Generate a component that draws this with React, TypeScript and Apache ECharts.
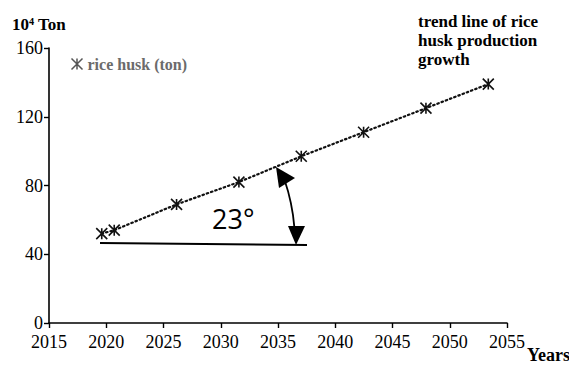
import React, { useEffect, useRef } from "react";
import * as echarts from "echarts";

// ---- data ----
const years = [2019, 2020, 2025, 2030, 2035, 2040, 2045, 2050];
const riceHusk = [52, 54, 69, 82, 97, 111, 125, 139];
const seriesName = "rice husk (ton)";
const xAxisRange = { min: 2015, max: 2055, interval: 5 };
const yAxisRange = { min: 0, max: 160, interval: 40 };
// the plotted points sit on their own (hidden) year scale in the reference
const pointYearScale = { min: 2014.77, max: 2051.5 };
const angleLabel = "23°";
const unitLabel = "10⁴ Ton";
const xName = "Years";
const trendNote = "trend line of rice\nhusk production\ngrowth";

const SERIF = "Liberation Serif";
const ASTERISK = "path://M0,0L10,10M10,0L0,10M5,0L5,10";

export default function App() {
  const ref = useRef<HTMLDivElement>(null);
  useEffect(() => {
    if (!ref.current) return;
    const chart = echarts.init(ref.current, null, { renderer: "svg" });
    chart.setOption({
      animation: false,
      backgroundColor: "#ffffff",
      textStyle: { fontFamily: SERIF },
      grid: { left: 49, right: 62, top: 48, bottom: 51 },
      legend: {
        left: 64,
        top: 51,
        itemWidth: 11,
        itemHeight: 11,
        data: [{ name: seriesName, icon: ASTERISK }],
        itemStyle: { color: "none", borderColor: "#555", borderWidth: 1.5 },
        textStyle: { fontFamily: SERIF, fontWeight: "bold", fontSize: 16, color: "#6b6b6b" },
      },
      xAxis: [
        {
          type: "value",
          min: xAxisRange.min,
          max: xAxisRange.max,
          interval: xAxisRange.interval,
          splitLine: { show: false },
          axisLine: { show: true, onZero: false, lineStyle: { color: "#000", width: 1.6 } },
          axisTick: { show: true, length: 5, lineStyle: { color: "#000", width: 1.4 } },
          axisLabel: {
            color: "#000",
            fontFamily: SERIF,
            fontSize: 18,
            margin: 10,
            formatter: (v: number) => String(v),
          },
        },
        {
          type: "value",
          show: false,
          min: pointYearScale.min,
          max: pointYearScale.max,
        },
      ],
      yAxis: {
        type: "value",
        min: yAxisRange.min,
        max: yAxisRange.max,
        interval: yAxisRange.interval,
        splitLine: { show: false },
        axisLine: { show: true, lineStyle: { color: "#000", width: 1.6 } },
        axisTick: { show: true, length: 5, lineStyle: { color: "#000", width: 1.4 } },
        axisLabel: { color: "#000", fontFamily: SERIF, fontSize: 18, margin: 6 },
      },
      series: [
        {
          name: seriesName,
          type: "line",
          xAxisIndex: 1,
          data: years.map((y, i) => [y, riceHusk[i]]),
          symbol: ASTERISK,
          symbolSize: 11,
          itemStyle: { color: "none", borderColor: "#111", borderWidth: 1.6 },
          lineStyle: { color: "#111", width: 2.2, type: [1.5, 3], cap: "round" },
        },
      ],
      graphic: [
        {
          type: "text",
          left: 12,
          top: 16,
          style: { text: unitLabel, fontFamily: SERIF, fontWeight: "bold", fontSize: 17, fill: "#000" },
        },
        {
          type: "text",
          left: 418,
          top: 12,
          style: {
            text: trendNote,
            fontFamily: SERIF,
            fontWeight: "bold",
            fontSize: 17,
            fill: "#000",
            lineHeight: 19,
          },
        },
        {
          type: "text",
          left: 527,
          top: 346,
          style: { text: xName, fontFamily: SERIF, fontWeight: "bold", fontSize: 18, fill: "#000" },
        },
        {
          type: "line",
          shape: { x1: 100, y1: 243, x2: 307, y2: 245 },
          style: { stroke: "#000", lineWidth: 2 },
        },
        {
          type: "arc",
          shape: { cx: 100, cy: 243, r: 195, startAngle: -0.33, endAngle: -0.08, clockwise: true },
          style: { stroke: "#000", lineWidth: 1.8, fill: null },
        },
        {
          type: "polygon",
          shape: { points: [[276, 167], [279, 188], [295, 178]] },
          style: { fill: "#000" },
        },
        {
          type: "polygon",
          shape: { points: [[296, 245], [288, 226], [305, 226]] },
          style: { fill: "#000" },
        },
        {
          type: "text",
          x: 212,
          y: 205,
          style: { text: angleLabel, fontFamily: "Open Sans", fontSize: 27, fill: "#000" },
        },
      ],
    });
    return () => chart.dispose();
  }, []);
  return (
    <div
      ref={ref}
      style={{ position: "fixed", left: 0, top: 0, width: 569, height: 374, background: "#fff" }}
    />
  );
}
